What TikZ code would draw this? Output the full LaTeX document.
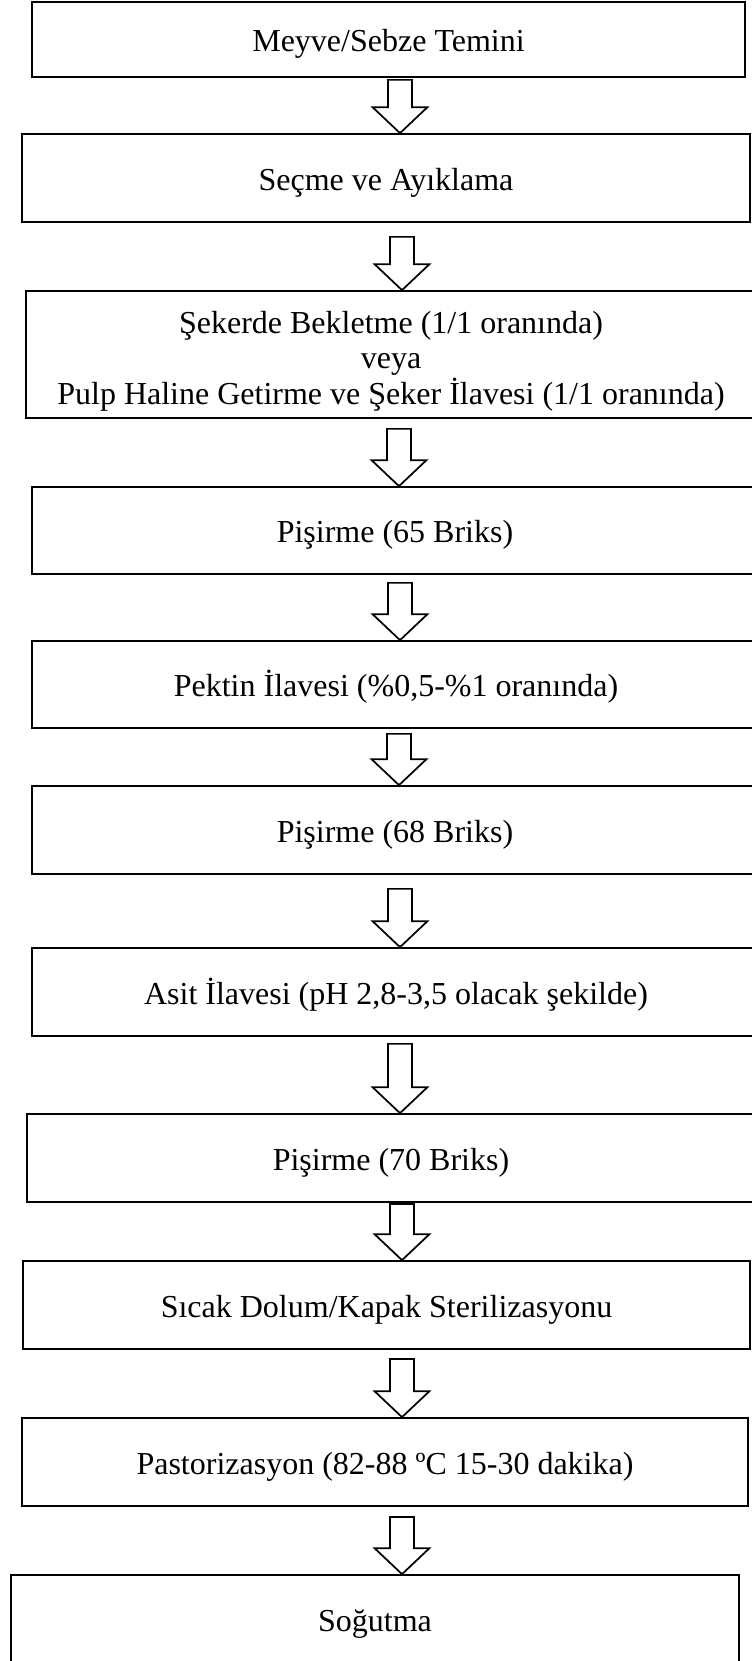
\documentclass[tikz,border=0pt]{standalone}
\usepackage{fontspec}
\setmainfont{Liberation Serif}
\usetikzlibrary{calc}

\begin{document}
\begin{tikzpicture}[x = 0.75pt, y = -0.75pt,
	stepbox/.style 2 args = {draw = black, line width = 1.3pt, minimum width = #1*0.75pt, minimum height = #2*0.75pt, inner sep = 0pt, align = center, text height = 21pt, text depth = 3pt, font = \fontsize{24}{26.6}\selectfont},
	flowarrow/.style = {draw = black, line width = 1.3pt, fill = white, line join = miter}]
							\useasboundingbox (0,0) rectangle (752,1661);
				
							\node [stepbox = {713}{75}] (s1) at (388.5,39.5) {Meyve/Sebze Temini};
							\node [stepbox = {728}{88}] (s2) at (386,178) {Seçme ve Ayıklama};
							\node [stepbox = {730}{127}, text height = 80pt, text depth = 5.3pt] (s3) at (391,354.5) {Şekerde Bekletme (1/1 oranında)\\veya\\Pulp Haline Getirme ve Şeker İlavesi (1/1 oranında)};
							\node [stepbox = {726}{87}] (s4) at (395,530.5) {Pişirme (65 Briks)};
							\node [stepbox = {728}{87}] (s5) at (396,684.5) {Pektin İlavesi (\%0,5-\%1 oranında)};
							\node [stepbox = {726}{88}] (s6) at (395,830) {Pişirme (68 Briks)};
							\node [stepbox = {728}{88}] (s7) at (396,992) {Asit İlavesi (pH 2,8-3,5 olacak şekilde)};
							\node [stepbox = {728}{88}] (s8) at (391,1158) {Pişirme (70 Briks)};
							\node [stepbox = {727}{88}] (s9) at (386.5,1305) {Sıcak Dolum/Kapak Sterilizasyonu};
							\node [stepbox = {726}{88}] (s10) at (385,1462) {Pastorizasyon (82-88 ºC 15-30 dakika)};
							\node [stepbox = {728}{88}] (s11) at (375,1619) {Soğutma};
				
							\foreach \a/\b/\g/\ax in {s1/s2/2/400, s2/s3/14/402, s3/s4/10/399, s4/s5/8/400, s5/s6/5/399, s6/s7/14/400, s7/s8/7/400, s8/s9/1/402, s9/s10/9/402, s10/s11/10/402}
							{
								\coordinate (ax) at (\ax,0);
								\coordinate (top) at ($(ax |- \a.south)+(0,\g)$);
								\coordinate (tip) at (ax |- \b.north);
								\draw [flowarrow] ($(top)+(-12,0)$) -- ($(tip)+(-12,-26)$) -- ($(tip)+(-27.5,-26)$) -- (tip) -- ($(tip)+(27.5,-26)$) -- ($(tip)+(12,-26)$) -- ($(top)+(12,0)$) -- cycle;
							}
						\end{tikzpicture}
\end{document}
